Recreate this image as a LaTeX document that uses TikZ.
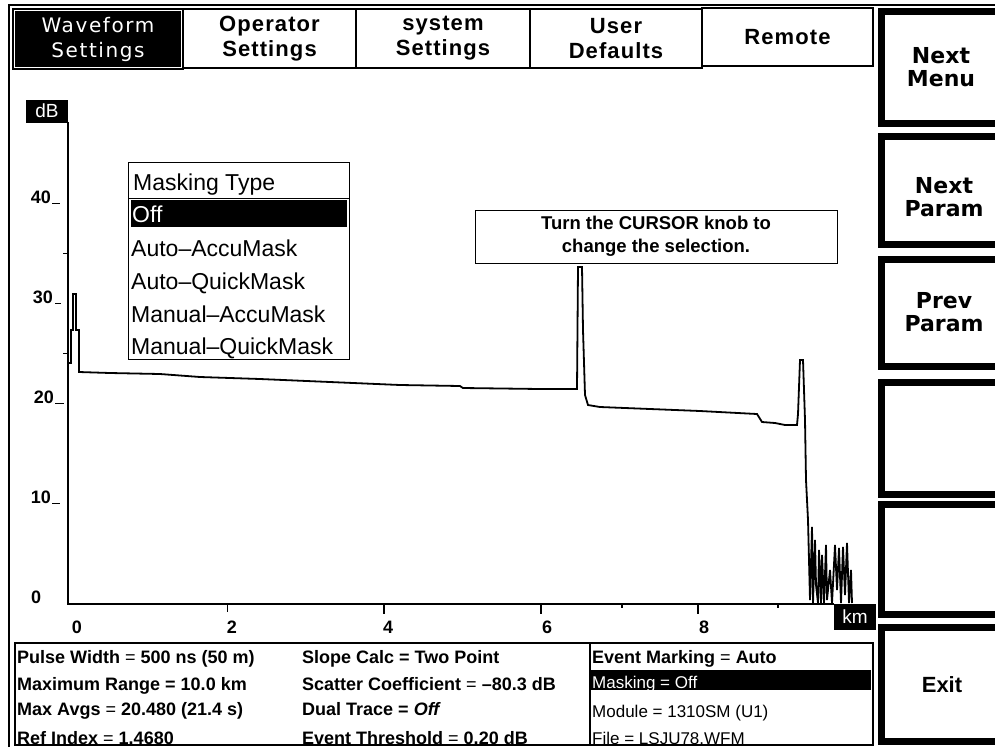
\documentclass[tikz,border=0pt]{standalone}
\usepackage{fontspec}
\setmainfont{Liberation Sans}
\newfontfamily\tabfont[LetterSpace=5]{Liberation Sans Bold}
\newfontfamily\wavefont[LetterSpace=8]{DejaVu Sans}
\newfontfamily\keyfont{DejaVu Sans Bold}
\begin{document}
\begin{tikzpicture}[x=1pt,y=-1pt,
	frame/.style={line width=1.5pt},
	tabbox/.style={draw,line width=1.5pt,minimum height=59,inner sep=0,align=center,font=\tabfont\fontsize{22}{25}\selectfont},
	softkey/.style={line width=7pt},
	keylabel/.style={align=center,inner sep=0,font=\keyfont\fontsize{22}{23}\selectfont},
	unitbox/.style={fill=black,text=white,inner sep=0,font=\fontsize{19}{19}\selectfont},
	ticklabel/.style={inner sep=0,font=\bfseries\fontsize{18}{18}\selectfont},
	trace/.style={line width=1.8pt},
	menuitem/.style={anchor=base west,inner sep=0,font=\fontsize{23}{23}\selectfont},
	infotext/.style={anchor=base west,inner sep=0,font=\bfseries\fontsize{18}{18}\selectfont},
	statustext/.style={anchor=base west,inner sep=0,font=\fontsize{17}{17}\selectfont}]
			\useasboundingbox (0,0) rectangle (995,747);
			\fill[white] (0,0) rectangle (995,747);
			\draw[frame] (9,747) -- (9,5) -- (995,5);

			\node[tabbox,fill=black,text=white,minimum width=170,minimum height=60,font=\wavefont\fontsize{20}{25}\selectfont] (waveform) at (98,39) {Waveform\\Settings};
			\draw[white,line width=0.8pt] ([shift={(2.5pt,2.5pt)}]waveform.south west) rectangle ([shift={(-2.5pt,-2.5pt)}]waveform.north east);
			\node[tabbox,minimum width=173] (operator) at (269.5,38.5) {Operator\\Settings};
			\node[tabbox,minimum width=174] (system) at (443,38.5) {system\\Settings};
			\node[tabbox,minimum width=172] (user) at (616,38.5) {User\\Defaults};
			\node[tabbox,minimum width=171,minimum height=58] (remote) at (787.5,37) {Remote};

			\draw[softkey] (881,11) rectangle (1012,123);
			\draw[softkey] (881,136) rectangle (1012,244);
			\draw[softkey] (881,259) rectangle (1012,366);
			\draw[softkey] (881,382) rectangle (1012,494);
			\draw[softkey] (881,504) rectangle (1012,614);
			\draw[softkey] (881,627) rectangle (1012,741);
			\node[keylabel] (nextmenu) at (941,67) {Next\\Menu};
			\node[keylabel] (nextparam) at (944,197) {Next\\Param};
			\node[keylabel] (prevparam) at (944,312) {Prev\\Param};
			\node[keylabel,font=\bfseries\fontsize{22}{22}\selectfont] (exit) at (942,685) {Exit};

			\node[unitbox,minimum width=42,minimum height=23] (dB) at (47,111) {dB};
			\draw[frame] (68,122) -- (68,604) -- (834,604);
			\node[unitbox,minimum width=42,minimum height=26] (km) at (855,617) {km};

			\node[ticklabel,anchor=base east] (y40) at (51,203) {40};
			\node[ticklabel,anchor=base east] (y30) at (53,303) {30};
			\node[ticklabel,anchor=base east] (y20) at (54,403) {20};
			\node[ticklabel,anchor=base east] (y10) at (51,503) {10};
			\node[ticklabel,anchor=base west] (y0) at (31,603) {0};
			\draw[line width=1pt] (52,203) -- (60,203);
			\draw[line width=1pt] (55,303) -- (61,303);
			\draw[line width=1pt] (55,403) -- (64,403);
			\draw[line width=1pt] (52,503) -- (60,503);
			\draw[line width=1pt] (63,253) -- (68,253);
			\draw[line width=1pt] (63,353) -- (68,353);

			\node[ticklabel] (x0) at (77,627) {0};
			\node[ticklabel] (x2) at (232,627) {2};
			\node[ticklabel] (x4) at (388,627) {4};
			\node[ticklabel] (x6) at (547,627) {6};
			\node[ticklabel] (x8) at (704,627) {8};
			\draw[line width=1pt] (227,604) -- (227,612);
			\draw[line width=2.5pt] (384,604) -- (384,614);
			\draw[line width=2.5pt] (541,604) -- (541,614);
			\draw[line width=2.5pt] (698,604) -- (698,614);
			\draw[line width=1.5pt] (622,604) -- (622,608);
			\draw[line width=1.5pt] (778,604) -- (778,608);

			\draw[trace] (68,363) -- (71,363) -- (71,330) -- (73,330) -- (73,294) -- (76,294) -- (76,330) -- (79,330) -- (79,372)
				-- (110,373) -- (160,374) -- (200,377) -- (260,379) -- (330,382) -- (400,385) -- (460,386) -- (463,388)
				-- (540,389) -- (577,389) -- (578,267) -- (582,267) -- (583,330) -- (585,395) -- (588,405) -- (600,407)
				-- (650,409) -- (700,411) -- (757,414) -- (762,422) -- (775,423) -- (785,425) -- (797,425) -- (798,414)
				-- (800,360) -- (803,360) -- (805,420) -- (806,480) -- (808,520) -- (809,560) -- (810,600) -- (812,527)
				-- (813,603) -- (815,540) -- (816,585) -- (818,603) -- (819,550) -- (821,603) -- (822,555) -- (824,603)
				-- (826,545) -- (827,600) -- (830,570) -- (832,603) -- (835,545) -- (837,590) -- (839,548) -- (841,603)
				-- (843,547) -- (845,595) -- (847,543) -- (849,603) -- (851,570) -- (852,603);

			\draw[line width=1pt] (128,162) rectangle (349,359);
			\draw[line width=1pt] (128,198) -- (349,198);
			\fill (131,200) rectangle (347,227);
			\node[menuitem] (masktitle) at (133,190) {Masking Type};
			\node[menuitem,text=white] (maskoff) at (132,222) {Off};
			\node[menuitem] (autoaccu) at (131,256) {Auto–AccuMask};
			\node[menuitem] (autoquick) at (131,289) {Auto–QuickMask};
			\node[menuitem] (manaccu) at (131,322) {Manual–AccuMask};
			\node[menuitem] (manquick) at (131,354) {Manual–QuickMask};

			\node[draw,line width=1pt,minimum width=362,minimum height=53,align=center,font=\bfseries\fontsize{18.5}{23}\selectfont] (hint) at (656,236.5) {Turn the CURSOR knob to\\change the selection.};

			\draw[line width=1.2pt] (15,643) rectangle (873,745);
			\draw[line width=1.2pt] (590,643) -- (590,745);
			\fill (590,670) rectangle (871,690);
			\begin{scope}
			\clip (15,643) rectangle (873,745);
			\node[infotext] (pulse) at (17,663) {Pulse Width {\mdseries =} 500 ns (50 m)};
			\node[infotext] (range) at (17,690) {Maximum Range = 10.0 km};
			\node[infotext] (avgs) at (17,715) {Max Avgs {\mdseries =} 20.480 (21.4 s)};
			\node[infotext] (index) at (17,744) {Ref Index {\mdseries =} 1.4680};
			\node[infotext] (slope) at (302,663) {Slope Calc = Two Point};
			\node[infotext] (scatter) at (302,690) {Scatter Coefficient {\mdseries =} –80.3 dB};
			\node[infotext] (dual) at (302,715) {Dual Trace = {\itshape Off}};
			\node[infotext] (thresh) at (302,744) {Event Threshold {\mdseries =} 0.20 dB};
			\node[infotext] (marking) at (592,663) {Event Marking {\mdseries =} Auto};
			\node[statustext,text=white] (masking) at (592,688) {Masking = Off};
			\node[statustext] (module) at (592,717) {Module = 1310SM (U1)};
			\node[statustext] (file) at (592,744) {File = LSJU78.WFM};
			\end{scope}
\end{tikzpicture}
\end{document}
